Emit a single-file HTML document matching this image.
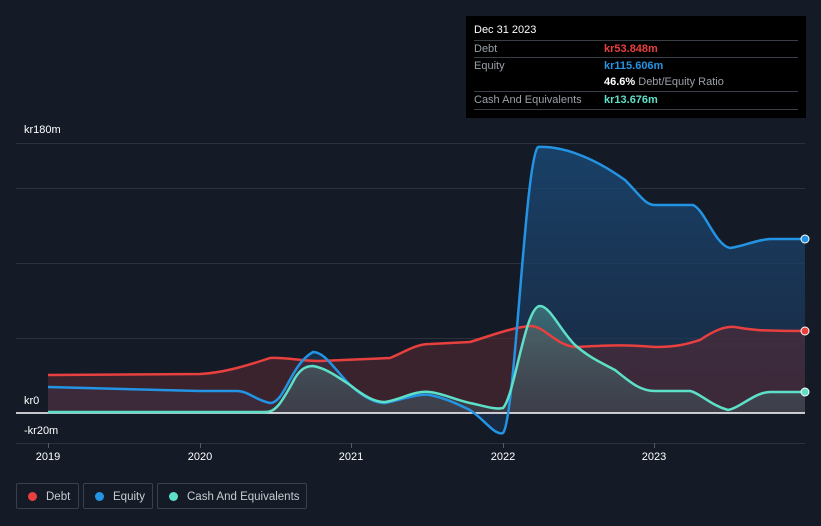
<!DOCTYPE html>
<html><head><meta charset="utf-8"><style>
body{margin:0;background:#151b26;font-family:"Liberation Sans",sans-serif;}
.w{position:relative;width:821px;height:526px;overflow:hidden;background:#151b26;}
.tt{position:absolute;left:466px;top:16px;width:340px;height:102px;background:#000;color:#fff;font-size:11px;}
.tt .r{position:absolute;left:8px;right:8px;border-top:1px solid #3a3f47;height:17px;line-height:17px;color:#9aa0a8;}
.tt .v{position:absolute;left:130px;top:0;font-weight:bold;}
.lg{position:absolute;top:483px;height:26px;border:1px solid #3a404b;border-radius:2px;color:#c8ccd2;font-size:11.5px;line-height:26px;box-sizing:border-box;white-space:nowrap;}
.lg i{display:inline-block;width:9px;height:9px;border-radius:50%;margin:0 9px 0 11px;vertical-align:-1px;}
.lab{position:absolute;color:#fff;font-size:11px;}
</style></head><body><div class="w">
<svg width="821" height="526" style="position:absolute;left:0;top:0">
<defs>
<linearGradient id="gb" x1="0" y1="0" x2="0" y2="1"><stop offset="0" stop-color="#1a4a78" stop-opacity=".8"/><stop offset="1" stop-color="#1b3150" stop-opacity=".6"/></linearGradient>
<linearGradient id="gc" x1="0" y1="0" x2="0" y2="1"><stop offset="0" stop-color="#5aa69b" stop-opacity=".5"/><stop offset="1" stop-color="#3e5a60" stop-opacity=".4"/></linearGradient>
</defs>
<g stroke="#2c323c" stroke-width="1">
<line x1="16" y1="143.5" x2="805" y2="143.5"/><line x1="16" y1="188.5" x2="805" y2="188.5"/>
<line x1="16" y1="263.5" x2="805" y2="263.5"/><line x1="16" y1="338.5" x2="805" y2="338.5"/>
<line x1="16" y1="443.5" x2="805" y2="443.5"/>
</g>
<path d="M48,387 C100,388 150,390 200,391 L238,391 C250,392 255,400 270,403 C285,403 290,365 313,352 C325,352 335,370 350,385 C365,398 375,403 385,403 C400,400 420,393 430,395 C445,398 455,403 470,410 C485,420 495,436 503,433 C515,420 525,160 538,147 C560,146 590,155 625,180 C640,195 645,205 655,205 L693,205 C705,210 715,245 730,248 C745,246 755,240 770,239 L805,239 L805,413 L48,413Z" fill="url(#gb)"/>
<path d="M48,375 L200,374 C220,373 240,368 270,358 C285,357 300,361 320,361 L390,358 C405,352 415,344 430,344 L470,342 C490,336 510,328 530,326 C545,326 555,345 575,347 C600,346 620,344 655,347 C680,347 690,343 700,340 C715,330 725,326 735,327 C750,330 760,331 805,331 L805,413 L48,413Z" fill="#5a2a33" fill-opacity=".55"/>
<path d="M48,412 L265,412 C275,412 280,406 295,378 C300,370 305,366 313,366 C325,368 335,375 350,385 C365,397 375,402 385,402 C400,400 415,390 430,392 C445,394 455,400 470,403 C485,406 495,410 503,408 C515,395 525,306 540,306 C550,306 560,330 575,345 C590,358 600,362 615,370 C630,382 640,391 655,391 L690,391 C700,393 710,405 728,410 C740,408 755,392 770,392 L805,392 L805,413 L48,413Z" fill="url(#gc)"/>
<line x1="16" y1="413" x2="805" y2="413" stroke="#fff" stroke-width="1.5"/>
<path d="M48,375 L200,374 C220,373 240,368 270,358 C285,357 300,361 320,361 L390,358 C405,352 415,344 430,344 L470,342 C490,336 510,328 530,326 C545,326 555,345 575,347 C600,346 620,344 655,347 C680,347 690,343 700,340 C715,330 725,326 735,327 C750,330 760,331 805,331" fill="none" stroke="#e8403f" stroke-width="2.5"/>
<path d="M48,387 C100,388 150,390 200,391 L238,391 C250,392 255,400 270,403 C285,403 290,365 313,352 C325,352 335,370 350,385 C365,398 375,403 385,403 C400,400 420,393 430,395 C445,398 455,403 470,410 C485,420 495,436 503,433 C515,420 525,160 538,147 C560,146 590,155 625,180 C640,195 645,205 655,205 L693,205 C705,210 715,245 730,248 C745,246 755,240 770,239 L805,239" fill="none" stroke="#2394e3" stroke-width="2.5"/>
<path d="M48,412 L265,412 C275,412 280,406 295,378 C300,370 305,366 313,366 C325,368 335,375 350,385 C365,397 375,402 385,402 C400,400 415,390 430,392 C445,394 455,400 470,403 C485,406 495,410 503,408 C515,395 525,306 540,306 C550,306 560,330 575,345 C590,358 600,362 615,370 C630,382 640,391 655,391 L690,391 C700,393 710,405 728,410 C740,408 755,392 770,392 L805,392" fill="none" stroke="#5ee0c8" stroke-width="2.5"/>
<circle cx="805" cy="239" r="4" fill="#2394e3" stroke="#fff" stroke-width="1"/>
<circle cx="805" cy="331" r="4" fill="#e8403f" stroke="#fff" stroke-width="1"/>
<circle cx="805" cy="392" r="4" fill="#5ee0c8" stroke="#fff" stroke-width="1"/>
<g stroke="#555b65"><line x1="48.5" y1="443" x2="48.5" y2="448"/><line x1="200.5" y1="443" x2="200.5" y2="448"/><line x1="351.5" y1="443" x2="351.5" y2="448"/><line x1="503.5" y1="443" x2="503.5" y2="448"/><line x1="654.5" y1="443" x2="654.5" y2="448"/></g>
<g fill="#fff" font-size="11" font-family="Liberation Sans" text-anchor="middle">
<text x="48" y="460">2019</text><text x="200" y="460">2020</text><text x="351" y="460">2021</text><text x="503" y="460">2022</text><text x="654" y="460">2023</text></g>
</svg>
<div class="lab" style="left:24px;top:124px">kr180m</div>
<div class="lab" style="left:24px;top:395px;background:#151b26;padding-right:6px">kr0</div>
<div class="lab" style="left:24px;top:425px">-kr20m</div>
<div class="tt">
<div style="position:absolute;left:8px;top:8px;color:#fff">Dec 31 2023</div>
<div class="r" style="top:24px">Debt<span class="v" style="color:#e8403f">kr53.848m</span></div>
<div class="r" style="top:41px">Equity<span class="v" style="color:#2394e3">kr115.606m</span></div>
<div class="r" style="top:58px;border-top:none"><span class="v" style="color:#fff">46.6% <span style="color:#9aa0a8;font-weight:normal">Debt/Equity Ratio</span></span></div>
<div class="r" style="top:75px;border-bottom:1px solid #3a3f47">Cash And Equivalents<span class="v" style="color:#5ee0c8">kr13.676m</span></div>
</div>
<div class="lg" style="left:16px;width:63px"><i style="background:#e8403f"></i>Debt</div>
<div class="lg" style="left:83px;width:70px"><i style="background:#2394e3"></i>Equity</div>
<div class="lg" style="left:157px;width:150px"><i style="background:#5ee0c8"></i>Cash And Equivalents</div>
</div></body></html>
